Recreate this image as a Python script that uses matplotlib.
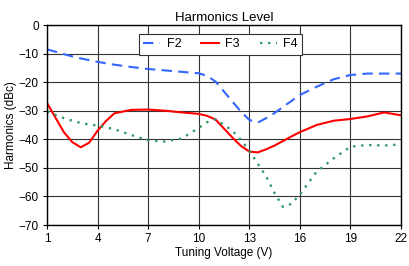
import numpy as np
import matplotlib.pyplot as plt

# Tuning voltage (V), with a few extra readings near the dips
volts = [1, 2, 2.5, 3, 3.5, 4, 4.5, 5, 6, 7, 8, 9, 10, 10.5, 11, 12, 12.5, 13,
         13.5, 14, 14.5, 15, 15.5, 16, 17, 18, 19, 20, 21, 22]

# Harmonic levels (dBc)
f2 = [-8.5, -10.2, -11.0, -11.7, -12.3, -12.9, -13.4, -13.9, -14.7, -15.4, -15.9,
      -16.4, -16.9, -17.8, -19.8, -26.8, -30.3, -33.2, -34.2, -32.6, -30.8, -28.7,
      -26.6, -24.5, -21.6, -19.0, -17.5, -17.0, -17.0, -17.0]
f3 = [-27.3, -37.5, -41.0, -42.8, -41.2, -37.0, -33.6, -30.9, -29.7, -29.6, -30.0,
      -30.6, -31.1, -31.8, -33.1, -39.4, -42.3, -44.3, -44.6, -43.5, -42.2, -40.6,
      -39.0, -37.5, -35.0, -33.5, -32.9, -32.0, -30.6, -31.6]
f4 = [-30.3, -32.6, -33.5, -34.3, -34.8, -35.2, -35.8, -36.5, -38.5, -40.4, -40.8,
      -39.7, -36.0, -34.0, -33.0, -37.0, -40.2, -44.0, -48.5, -53.0, -58.8, -63.7,
      -62.6, -59.3, -51.3, -46.7, -42.6, -42.0, -42.2, -41.8]

xticks = [1, 4, 7, 10, 13, 16, 19, 22]
yticks = [0, -10, -20, -30, -40, -50, -60, -70]

plt.rcParams['font.family'] = ['Liberation Sans', 'DejaVu Sans']

fig = plt.figure(figsize=(4.09, 2.66), dpi=100)
ax = fig.add_axes([47 / 409, 1 - 225 / 266, 354 / 409, 200 / 266])

ax.plot(volts, f2, color='#3366ff', lw=1.5, dashes=(5, 3), label='F2')
ax.plot(volts, f3, color='#ff0000', lw=1.5, label='F3')
ax.plot(volts, f4, color='#339966', lw=1.7, dashes=(1, 2.4), label='F4')

ax.set_xlim(1, 22)
ax.set_ylim(-70, 0)
ax.set_xticks(xticks)
ax.set_yticks(yticks)
ax.grid(True, color='#333333', lw=0.8)
ax.set_axisbelow(True)
for s in ax.spines.values():
    s.set_color('black')
    s.set_linewidth(1.0)
ax.tick_params(labelsize=8.5, length=3, width=0.8, direction='out', pad=3)

ax.set_title('Harmonics Level', fontsize=9.5, pad=3)
ax.set_xlabel('Tuning Voltage (V)', fontsize=8.5, labelpad=1)
ax.set_ylabel('Harmonics (dBc)', fontsize=8.5, labelpad=1)

leg = ax.legend(ncol=3, loc='upper center', bbox_to_anchor=(0.49, 0.955), fontsize=9,
                frameon=True, fancybox=False, borderpad=0.35, handlelength=1.4,
                columnspacing=1.6, handletextpad=0.5, borderaxespad=0)
leg.get_frame().set_edgecolor('#333333')
leg.get_frame().set_linewidth(0.8)
leg.get_frame().set_alpha(1)

fig.savefig('out.png', dpi=100)
